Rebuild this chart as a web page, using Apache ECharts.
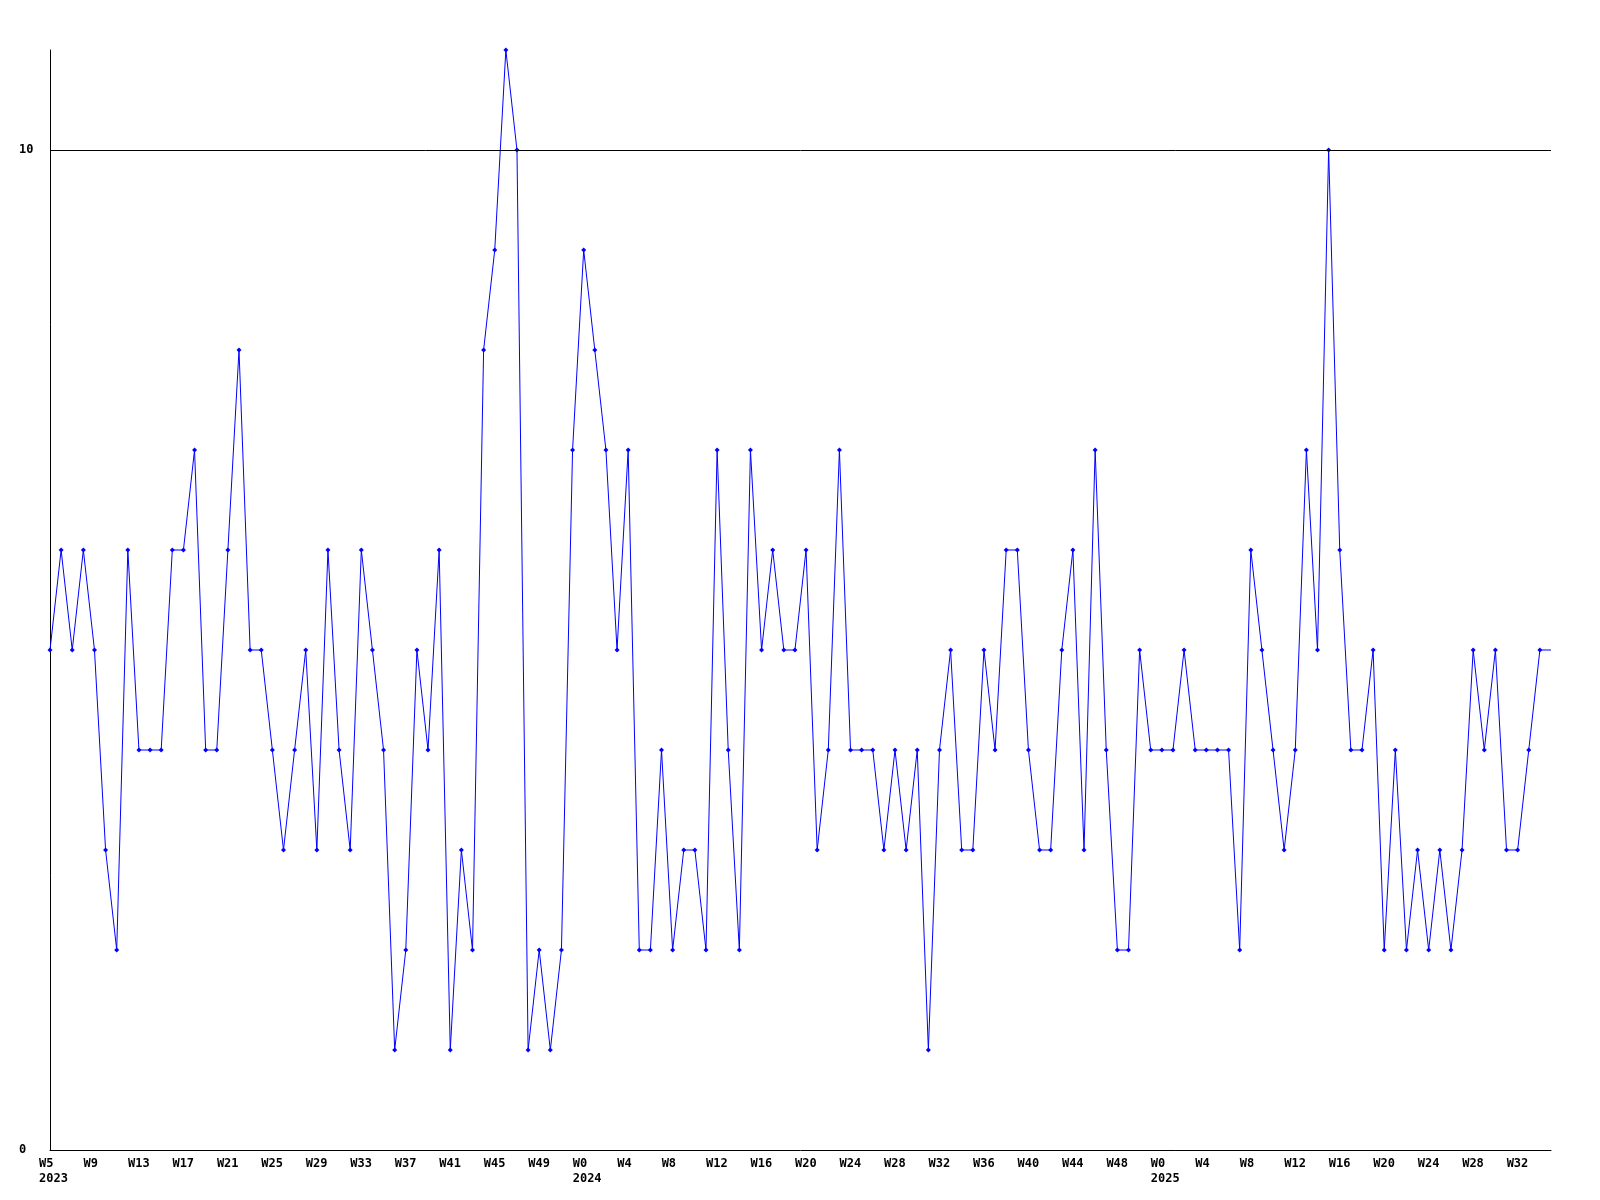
<!DOCTYPE html>
<html>
<head>
<meta charset="utf-8">
<script src="https://cdn.jsdelivr.net/npm/echarts@6/dist/echarts.min.js"></script>
<style>html,body{margin:0;padding:0;background:#fff}#chart{width:1600px;height:1200px}</style>
</head>
<body>
<div id="chart"></div>
<script>
// Week ranges per year: [year, firstWeek, lastWeek]
const yearWeeks2023 = [2023, 5, 52];
const yearWeeks2024 = [2024, 0, 51];
const yearWeeks2025 = [2025, 0, 35];

// Weekly values
const values2023 = [5,6,5,6,5,3,2,6,4,4, 4,6,6,7,4,4,6,8,5,5, 4,3,4,5,3,6,4,3,6,5, 4,1,2,5,4,6,1,3,2,8, 9,11,10,1,2,1,2,7];
const values2024 = [9,8,7,5,7,2,2,4,2,3, 3,2,7,4,2,7,5,6,5,5, 6,3,4,7,4,4,4,3,4,3, 4,1,4,5,3,3,5,4,6,6, 4,3,3,5,6,3,7,4,2,2, 5,4];
const values2025 = [4,4,5,4,4,4,4,2,6,5, 4,3,4,7,5,10,6,4,4,5, 2,4,2,3,2,3,2,3,5,4, 5,3,3,4,5, 5];

const yTickLabels = ['0', '10'];

const categories = [];
const yearStart = {};
[yearWeeks2023, yearWeeks2024, yearWeeks2025].forEach(([y, a, b]) => {
  yearStart[categories.length] = y;
  for (let w = a; w <= b; w++) categories.push('W' + w);
});
const allValues = values2023.concat(values2024, values2025);
const seriesData = allValues.map((v, i) => i === allValues.length - 1 ? { value: v, symbol: 'none' } : v);

const font = { fontFamily: 'DejaVu Sans Mono', fontWeight: 'bold', fontSize: 12, color: '#000' };

const chart = echarts.init(document.getElementById('chart'), null, { renderer: 'canvas' });
chart.setOption({
  animation: false,
  backgroundColor: '#ffffff',
  grid: { left: 50, right: 49, top: 50, bottom: 50, containLabel: false },
  xAxis: {
    type: 'category',
    data: categories,
    boundaryGap: false,
    axisLine: { lineStyle: { color: '#000', width: 1 } },
    axisTick: { show: false },
    splitLine: { show: false },
    axisLabel: Object.assign({}, font, {
      interval: 3,
      align: 'left',
      margin: 6,
      lineHeight: 15,
      padding: [0, 0, 0, -11],
      formatter: (v, i) => (yearStart[i] !== undefined ? v + '\n' + yearStart[i] : v)
    })
  },
  yAxis: {
    type: 'value',
    min: 0,
    max: 11,
    interval: 10,
    axisLine: { show: true, lineStyle: { color: '#000', width: 1 } },
    axisTick: { show: false },
    splitLine: { show: false },
    axisLabel: Object.assign({}, font, {
      align: 'left',
      margin: 31,
      showMaxLabel: false,
      formatter: v => (yTickLabels.indexOf(String(v)) >= 0 ? String(v) : '')
    })
  },
  series: [{
    type: 'line',
    data: seriesData,
    symbol: 'diamond',
    symbolSize: 5,
    showAllSymbol: true,
    lineStyle: { color: '#0000ff', width: 1 },
    itemStyle: { color: '#0000ff' },
    markLine: {
      silent: true,
      symbol: 'none',
      label: { show: false },
      lineStyle: { color: '#000', width: 1, type: 'solid' },
      data: [{ yAxis: 10 }]
    }
  }]
});
</script>
</body>
</html>
